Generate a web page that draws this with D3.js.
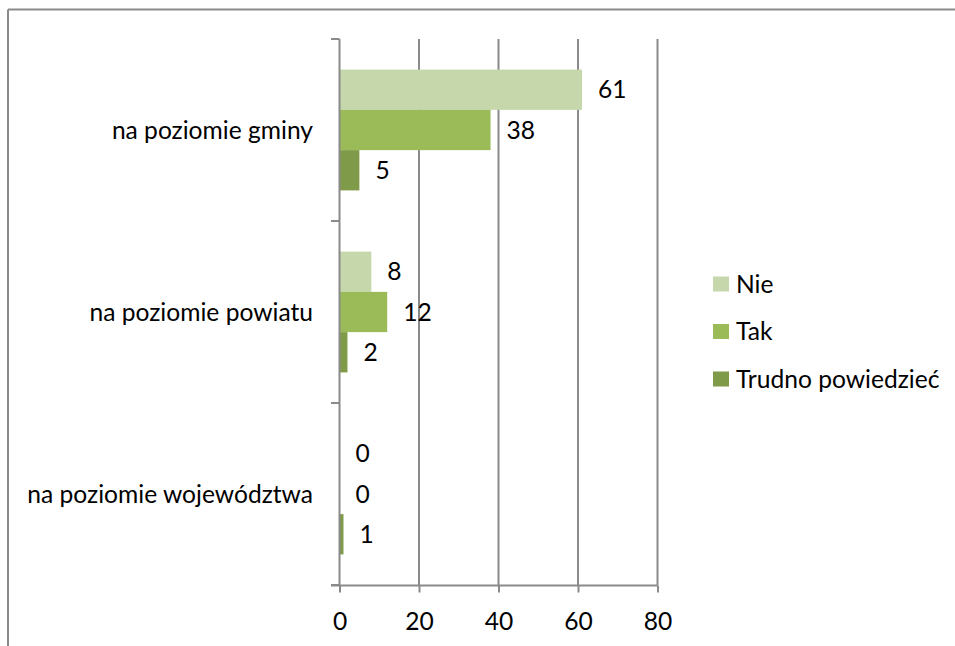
<!DOCTYPE html>
<html>
<head>
<meta charset="utf-8">
<script src="https://cdn.jsdelivr.net/npm/d3@7"></script>
<style>
  html, body { margin: 0; padding: 0; background: #fff; }
  svg { display: block; }
  text { font-family: Lato, "Open Sans", sans-serif; fill: #000; }
</style>
</head>
<body>
<script>
// Categories (top to bottom) and series
const categories = ["na poziomie gminy", "na poziomie powiatu", "na poziomie województwa"];
const seriesNames = ["Nie", "Tak", "Trudno powiedzieć"];
const seriesColors = ["#c5d7ab", "#9bbb59", "#7f9a48"];
const nieValues = [61, 8, 0];
const takValues = [38, 12, 0];
const trudnoValues = [5, 2, 1];
const xTicks = [0, 20, 40, 60, 80];

const seriesValues = [nieValues, takValues, trudnoValues];

const W = 955, H = 646;
const FONT = 24.6;
const gridColor = "#8a8a8a";

const svg = d3.select("body").append("svg")
  .attr("width", W).attr("height", H);

// outer frame (top and left edges visible)
svg.append("line").attr("x1", 8).attr("x2", W).attr("y1", 9.5).attr("y2", 9.5)
  .attr("stroke", gridColor).attr("stroke-width", 2);
svg.append("line").attr("x1", 8).attr("x2", 8).attr("y1", 9.5).attr("y2", H)
  .attr("stroke", gridColor).attr("stroke-width", 2);

const x = d3.scaleLinear().domain([0, 80]).range([339.5, 657.5]);
const y = d3.scaleBand().domain(categories).range([39, 585]).paddingInner(0).paddingOuter(0);
const ySub = d3.scaleBand().domain(seriesNames).range([0, y.bandwidth()])
  .paddingInner(0).paddingOuter(0.76);

// vertical gridlines
svg.append("g").selectAll("line").data(xTicks.filter(d => d > 0)).join("line")
  .attr("x1", d => x(d)).attr("x2", d => x(d))
  .attr("y1", 39).attr("y2", 585)
  .attr("stroke", gridColor).attr("stroke-width", 2);

// bottom axis
const xAxis = svg.append("g").attr("transform", "translate(0,585.5)")
  .call(d3.axisBottom(x).tickValues(xTicks).tickSize(7).tickPadding(20).tickSizeOuter(0));
xAxis.select(".domain").attr("stroke", gridColor).attr("stroke-width", 2)
  .attr("d", `M331,0H${x(80)}`);
xAxis.selectAll(".tick line").attr("stroke", gridColor).attr("stroke-width", 2);
xAxis.selectAll(".tick text").attr("font-size", FONT).attr("font-family", "Lato, sans-serif")
  .attr("fill", "#000");

// bars
const groups = svg.append("g").selectAll("g").data(categories).join("g")
  .attr("transform", d => `translate(0,${y(d)})`);

groups.each(function(cat, ci) {
  const g = d3.select(this);
  const rows = seriesNames.map((s, si) => ({ s, v: seriesValues[si][ci], c: seriesColors[si] }));
  g.selectAll("rect").data(rows).join("rect")
    .attr("x", x(0))
    .attr("y", d => ySub(d.s))
    .attr("width", d => x(d.v) - x(0))
    .attr("height", ySub.bandwidth())
    .attr("fill", d => d.c);
  g.selectAll("text.val").data(rows).join("text")
    .attr("class", "val")
    .attr("x", d => x(d.v) + 16)
    .attr("y", d => ySub(d.s) + ySub.bandwidth() / 2)
    .attr("dy", "0.35em")
    .attr("font-size", FONT)
    .text(d => d.v);
});

// left axis line and category ticks
svg.append("line").attr("x1", x(0)).attr("x2", x(0)).attr("y1", 39).attr("y2", 585)
  .attr("stroke", gridColor).attr("stroke-width", 2);
const bounds = categories.map(c => y(c)).concat([y.range()[1]]);
svg.append("g").selectAll("line").data(bounds).join("line")
  .attr("x1", 331).attr("x2", x(0))
  .attr("y1", d => d).attr("y2", d => d)
  .attr("stroke", gridColor).attr("stroke-width", 2);

// category labels
svg.append("g").selectAll("text").data(categories).join("text")
  .attr("x", 313)
  .attr("y", d => y(d) + y.bandwidth() / 2)
  .attr("dy", "0.35em")
  .attr("text-anchor", "end")
  .attr("font-size", FONT)
  .text(d => d);

// legend
const legend = svg.append("g").selectAll("g").data(seriesNames).join("g")
  .attr("transform", (d, i) => `translate(713,${284 + i * 47.5})`);
legend.append("rect").attr("x", 0).attr("y", -7.5).attr("width", 16).attr("height", 15)
  .attr("fill", (d, i) => seriesColors[i]);
legend.append("text").attr("x", 23).attr("y", 0).attr("dy", "0.35em")
  .attr("font-size", FONT).text(d => d);
</script>
</body>
</html>
